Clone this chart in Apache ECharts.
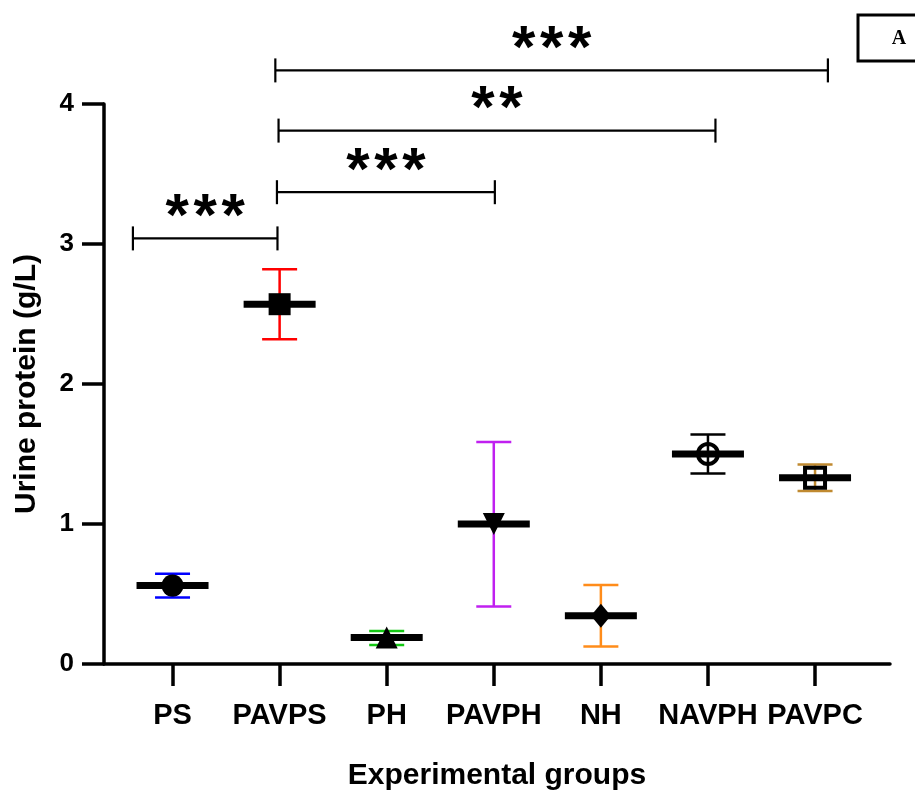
<!DOCTYPE html>
<html>
<head>
<meta charset="utf-8">
<title>Urine protein</title>
<script src="https://cdn.jsdelivr.net/npm/echarts@6/dist/echarts.min.js"></script>
<style>
  html, body { margin: 0; padding: 0; background: #fff; }
  #myChart { width: 915px; height: 803px; }
</style>
</head>
<body>
<div id="myChart"></div>
<script>
    // groups along x
    var groups = ['PS', 'PAVPS', 'PH', 'PAVPH', 'NH', 'NAVPH', 'PAVPC'];
    var means = [0.56, 2.57, 0.19, 1.00, 0.345, 1.50, 1.33];
    var upper = [0.645, 2.82, 0.235, 1.585, 0.565, 1.64, 1.425];
    var lower = [0.475, 2.32, 0.135, 0.41, 0.125, 1.36, 1.235];
    var yTicks = [0, 1, 2, 3, 4];

    // significance brackets (x in group positions, y in g/L)
    var bracketFrom = [0.63, 1.975, 1.99, 1.96];
    var bracketTo = [1.98, 4.01, 6.07, 7.12];
    var bracketY = [3.04, 3.37, 3.81, 4.24];
    var bracketStars = ['***', '***', '**', '***'];

    var errColors = ['#0000ff', '#ff0000', '#14c814', '#c020f0', '#ff8c1a', '#000000', '#c08a30'];
    var markers = ['circle', 'rect', 'triangle', 'triangle', 'diamond', 'circle', 'rect'];
    var FONT = '"Liberation Sans", Arial, sans-serif';

    var myChart;

    function getMyChart() {
        if (typeof myChart !== 'undefined') { return myChart; }
        myChart = echarts.init(document.getElementById('myChart'), null, { renderer: 'canvas' });
        return myChart;
    }

    function renderErr(params, api) {
        var x = api.value(0);
        var pHi = api.coord([x, api.value(1)]);
        var pLo = api.coord([x, api.value(2)]);
        var c = errColors[params.dataIndex];
        var st = { stroke: c, lineWidth: 2.5 };
        var cap = 17.5;
        return {
            type: 'group',
            children: [
                { type: 'line', shape: { x1: pHi[0], y1: pHi[1], x2: pLo[0], y2: pLo[1] }, style: st },
                { type: 'line', shape: { x1: pHi[0] - cap, y1: pHi[1], x2: pHi[0] + cap, y2: pHi[1] }, style: st },
                { type: 'line', shape: { x1: pLo[0] - cap, y1: pLo[1], x2: pLo[0] + cap, y2: pLo[1] }, style: st }
            ]
        };
    }

    function renderMean(params, api) {
        var p = api.coord([api.value(0), api.value(1)]);
        return {
            type: 'line',
            shape: { x1: p[0] - 36, y1: p[1], x2: p[0] + 36, y2: p[1] },
            style: { stroke: '#000', lineWidth: 7 }
        };
    }

    function renderBracket(params, api) {
        var a = api.coord([api.value(0), api.value(2)]);
        var b = api.coord([api.value(1), api.value(2)]);
        var st = { stroke: '#000', lineWidth: 2.2 };
        var stars = bracketStars[params.dataIndex];
        var mid = (a[0] + b[0]) / 2;
        var children = [
            { type: 'line', shape: { x1: a[0], y1: a[1], x2: b[0], y2: b[1] }, style: st },
            { type: 'line', shape: { x1: a[0], y1: a[1] - 12, x2: a[0], y2: a[1] + 12 }, style: st },
            { type: 'line', shape: { x1: b[0], y1: b[1] - 12, x2: b[0], y2: b[1] + 12 }, style: st }
        ];
        var n = stars.length;
        for (var k = 0; k < n; k++) {
            children.push({
                type: 'text',
                x: mid + (k - (n - 1) / 2) * 28,
                y: a[1] - 20,
                style: {
                    text: '*', fill: '#000', font: 'bold 60px ' + FONT,
                    align: 'center', verticalAlign: 'middle'
                }
            });
        }
        return { type: 'group', children: children };
    }

    function buildOption() {
        var errData = [], meanData = [], markData = [], brData = [];
        for (var i = 0; i < groups.length; i++) {
            errData.push([i + 1, upper[i], lower[i]]);
            meanData.push([i + 1, means[i]]);
            var item = { value: [i + 1, means[i]], symbol: markers[i], symbolSize: 22 };
            if (i === 3) { item.symbolRotate = 180; }
            if (i === 4) { item.symbolSize = [20, 24]; }
            if (i >= 5) {
                item.symbolSize = 20;
                item.itemStyle = { color: 'rgba(0,0,0,0)', borderColor: '#000', borderWidth: 4 };
            }
            markData.push(item);
        }
        for (var j = 0; j < bracketY.length; j++) {
            brData.push([bracketFrom[j], bracketTo[j], bracketY[j]]);
        }
        var tickVals = [];
        for (var t = 1; t <= groups.length; t++) { tickVals.push(t); }

        return {
            backgroundColor: '#fff',
            animation: false,
            grid: { left: 104, right: 25, top: 104, bottom: 139 },
            xAxis: {
                type: 'value', min: 0.36, max: 7.7,
                name: 'Experimental groups', nameLocation: 'middle', nameGap: 97,
                nameTextStyle: { fontFamily: FONT, fontWeight: 'bold', fontSize: 30, color: '#000' },
                splitLine: { show: false },
                axisLine: { show: true, lineStyle: { color: '#000', width: 3.5 } },
                axisTick: { show: true, customValues: tickVals, length: 22, lineStyle: { color: '#000', width: 3.5 } },
                axisLabel: {
                    customValues: tickVals, margin: 37,
                    fontFamily: FONT, fontWeight: 'bold', fontSize: 29, color: '#000',
                    formatter: function (v) { return groups[Math.round(v) - 1]; }
                }
            },
            yAxis: {
                type: 'value', min: 0, max: 4, interval: 1,
                name: 'Urine protein (g/L)', nameLocation: 'middle', nameGap: 62,
                nameTextStyle: { fontFamily: FONT, fontWeight: 'bold', fontSize: 30, color: '#000' },
                splitLine: { show: false },
                axisLine: { show: true, lineStyle: { color: '#000', width: 3.5 } },
                axisTick: { show: true, length: 22, lineStyle: { color: '#000', width: 3.5 } },
                axisLabel: {
                    margin: 30, fontFamily: FONT, fontWeight: 'bold', fontSize: 26, color: '#000',
                    formatter: function (v) { return yTicks.indexOf(v) >= 0 ? String(v) : ''; }
                }
            },
            series: [
                { type: 'custom', z: 2, renderItem: renderErr, data: errData, clip: false },
                { type: 'scatter', z: 3, data: markData, itemStyle: { color: '#000', opacity: 1 } },
                { type: 'custom', z: 4, renderItem: renderMean, data: meanData, clip: false },
                { type: 'custom', z: 5, renderItem: renderBracket, data: brData, clip: false }
            ],
            graphic: [
                { type: 'rect', shape: { x: 858, y: 15, width: 80, height: 46 },
                  style: { fill: '#fff', stroke: '#000', lineWidth: 3 } },
                { type: 'text', x: 899, y: 39,
                  style: { text: 'A', font: 'bold 20px "Liberation Serif", "Times New Roman", serif',
                           fill: '#000', align: 'center', verticalAlign: 'middle' } }
            ]
        };
    }

    getMyChart().setOption(buildOption());
</script>
</body>
</html>
